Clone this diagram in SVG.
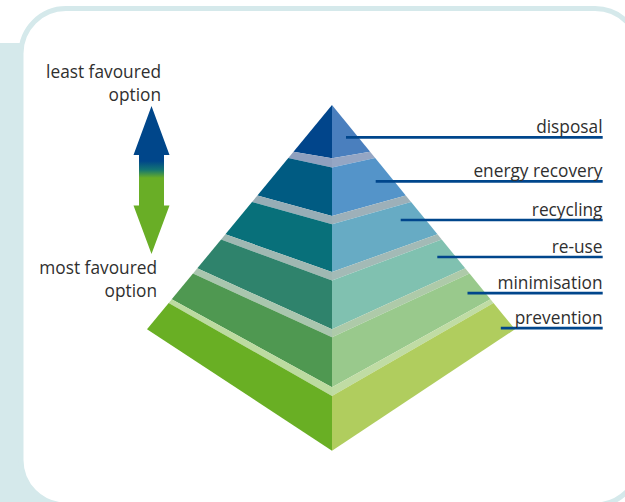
<svg xmlns="http://www.w3.org/2000/svg" width="625" height="502" viewBox="0 0 625 502">
  <defs>
    <linearGradient id="arrowGrad" gradientUnits="userSpaceOnUse" x1="0" y1="106" x2="0" y2="254">
      <stop offset="0" stop-color="#00468a"/>
      <stop offset="0.372" stop-color="#00468a"/>
      <stop offset="0.43" stop-color="#137473"/>
      <stop offset="0.486" stop-color="#69ae26"/>
      <stop offset="1" stop-color="#69ae26"/>
    </linearGradient>
  </defs>
  <style>
    .lbl { font-family: "Open Sans", "Liberation Sans", sans-serif; font-size: 17.3px; fill: #2f2f2f; }
    .end { text-anchor: end; }
    .leader { stroke: #00468c; stroke-width: 2.7; fill: none; }
  </style>

  <!-- frame: teal strip on the left and a rounded white panel -->
  <g id="frame">
    <rect x="0" y="43" width="66" height="462" fill="#d5e9eb"/>
    <rect x="21" y="8.5" width="619" height="496.5" rx="45" ry="45" fill="#ffffff" stroke="#d5e9eb" stroke-width="5"/>
  </g>

  <!-- preference scale -->
  <g id="scale">
    <text class="lbl end" x="161" y="77.5">least favoured</text>
    <text class="lbl end" x="161" y="100.5">option</text>
    <polygon points="151.5,106 169.5,155 164,155 164,205.5 169.5,205.5 151.5,254 133.5,205.5 139,205.5 139,155 133.5,155" fill="url(#arrowGrad)"/>
    <text class="lbl end" x="157" y="274">most favoured</text>
    <text class="lbl end" x="157" y="297.3">option</text>
  </g>

  <!-- pyramid tiers, top to bottom -->
  <g id="tier-disposal">
    <polygon points="332,105 293.5,151.7 332,158.3" fill="#01458b"/>
    <polygon points="332,105 332,158.3 370.1,151.7" fill="#4a7fbe"/>
  </g>
  <g id="sep-1">
    <polygon points="293.5,151.7 332,158.3 332,167.5 288.3,158" fill="#8fa0bf"/>
    <polygon points="370.1,151.7 332,158.3 332,167.5 375.2,158" fill="#95a6c4"/>
  </g>
  <g id="tier-energy-recovery">
    <polygon points="288.3,158 332,167.5 332,216 257.4,195.5" fill="#005b82"/>
    <polygon points="375.2,158 332,167.5 332,216 405.8,195.5" fill="#5494c9"/>
  </g>
  <g id="sep-2">
    <polygon points="257.4,195.5 332,216 332,224.3 252,202" fill="#97adb6"/>
    <polygon points="405.8,195.5 332,216 332,224.3 411.1,202" fill="#9db0b9"/>
  </g>
  <g id="tier-recycling">
    <polygon points="252,202 332,224.3 332,272 225.4,234.3" fill="#08707a"/>
    <polygon points="411.1,202 332,224.3 332,272 437.5,234.3" fill="#67abc4"/>
  </g>
  <g id="sep-3">
    <polygon points="225.4,234.3 332,272 332,280.5 221.1,239.5" fill="#9fb8b2"/>
    <polygon points="437.5,234.3 332,272 332,280.5 441.7,239.5" fill="#a3bab6"/>
  </g>
  <g id="tier-re-use">
    <polygon points="221.1,239.5 332,280.5 332,329.3 197.3,268.3" fill="#2f836c"/>
    <polygon points="441.7,239.5 332,280.5 332,329.3 465.2,268.3" fill="#80c1b0"/>
  </g>
  <g id="sep-4">
    <polygon points="197.3,268.3 332,329.3 332,337.3 193,273.5" fill="#a9c6ae"/>
    <polygon points="465.2,268.3 332,329.3 332,337.3 469.5,273.5" fill="#aecaa9"/>
  </g>
  <g id="tier-minimisation">
    <polygon points="193,273.5 332,337.3 332,387.3 171.7,299.3" fill="#4f9851"/>
    <polygon points="469.5,273.5 332,337.3 332,387.3 490.5,299.3" fill="#99c98c"/>
  </g>
  <g id="sep-5">
    <polygon points="171.7,299.3 332,387.3 332,396 168.7,303" fill="#bcdba0"/>
    <polygon points="490.5,299.3 332,387.3 332,396 493.5,303" fill="#c0dca4"/>
  </g>
  <g id="tier-prevention">
    <polygon points="168.7,303 332,396 332,450.7 147,329.3" fill="#69af24"/>
    <polygon points="493.5,303 332,396 332,450.7 515,329.3" fill="#b0cd5e"/>
  </g>

  <!-- leader lines from each tier to its label -->
  <g id="connectors">
    <line class="leader" x1="346" y1="137.3" x2="602.7" y2="137.3"/>
    <line class="leader" x1="375.7" y1="181.3" x2="602.7" y2="181.3"/>
    <line class="leader" x1="400.7" y1="220" x2="602.7" y2="220"/>
    <line class="leader" x1="437.3" y1="257" x2="602.7" y2="257"/>
    <line class="leader" x1="467.5" y1="293.2" x2="602.7" y2="293.2"/>
    <line class="leader" x1="500.8" y1="328.2" x2="602.7" y2="328.2"/>
  </g>

  <!-- tier labels -->
  <g id="labels">
    <text class="lbl end" x="602.5" y="132.5">disposal</text>
    <text class="lbl end" x="602.5" y="177.3">energy recovery</text>
    <text class="lbl end" x="602.5" y="216">recycling</text>
    <text class="lbl end" x="602.5" y="252.7">re-use</text>
    <text class="lbl end" x="602.5" y="289">minimisation</text>
    <text class="lbl end" x="602.5" y="324.3">prevention</text>
  </g>
</svg>
